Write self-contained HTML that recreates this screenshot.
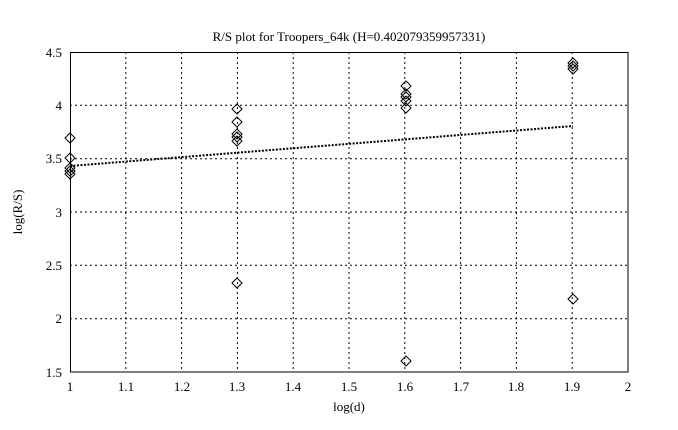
<html><body style="margin:0;background:#fff">
<svg width="678" height="430" xmlns="http://www.w3.org/2000/svg" font-family="Liberation Serif, serif" font-size="13">
<rect width="678" height="430" fill="#fff"/>
<g stroke="#000" stroke-width="1" stroke-dasharray="2,3">
<line x1="125.8" y1="52" x2="125.8" y2="372"/><line x1="181.6" y1="52" x2="181.6" y2="372"/><line x1="237.4" y1="52" x2="237.4" y2="372"/><line x1="293.2" y1="52" x2="293.2" y2="372"/><line x1="349" y1="52" x2="349" y2="372"/><line x1="404.8" y1="52" x2="404.8" y2="372"/><line x1="460.6" y1="52" x2="460.6" y2="372"/><line x1="516.4" y1="52" x2="516.4" y2="372"/><line x1="572.2" y1="52" x2="572.2" y2="372"/>
<line x1="70" y1="105.3" x2="628" y2="105.3"/><line x1="70" y1="158.7" x2="628" y2="158.7"/><line x1="70" y1="212" x2="628" y2="212"/><line x1="70" y1="265.3" x2="628" y2="265.3"/><line x1="70" y1="318.7" x2="628" y2="318.7"/>
</g>
<rect x="70.5" y="52.5" width="557.5" height="319.5" fill="none" stroke="#000"/>
<line x1="70" y1="166" x2="573" y2="126" stroke="#000" stroke-width="2" stroke-dasharray="2,1.5"/>
<g fill="none" stroke="#000">
<path id="d" d="M0,-5L5,0L0,5L-5,0Z" transform="translate(70,138)"/>
<path d="M0,-5L5,0L0,5L-5,0Z" transform="translate(70,158)"/>
<path d="M0,-5L5,0L0,5L-5,0Z" transform="translate(70,168)"/>
<path d="M0,-5L5,0L0,5L-5,0Z" transform="translate(70,171)"/>
<path d="M0,-5L5,0L0,5L-5,0Z" transform="translate(70,174)"/>
<path d="M0,-5L5,0L0,5L-5,0Z" transform="translate(237,109)"/>
<path d="M0,-5L5,0L0,5L-5,0Z" transform="translate(237,122)"/>
<path d="M0,-5L5,0L0,5L-5,0Z" transform="translate(237,134)"/>
<path d="M0,-5L5,0L0,5L-5,0Z" transform="translate(237,137)"/>
<path d="M0,-5L5,0L0,5L-5,0Z" transform="translate(237,141)"/>
<path d="M0,-5L5,0L0,5L-5,0Z" transform="translate(237,283)"/>
<path d="M0,-5L5,0L0,5L-5,0Z" transform="translate(406,86)"/>
<path d="M0,-5L5,0L0,5L-5,0Z" transform="translate(406,94)"/>
<path d="M0,-5L5,0L0,5L-5,0Z" transform="translate(406,97)"/>
<path d="M0,-5L5,0L0,5L-5,0Z" transform="translate(406,101)"/>
<path d="M0,-5L5,0L0,5L-5,0Z" transform="translate(406,108)"/>
<path d="M0,-5L5,0L0,5L-5,0Z" transform="translate(406,361)"/>
<path d="M0,-5L5,0L0,5L-5,0Z" transform="translate(573,63)"/>
<path d="M0,-5L5,0L0,5L-5,0Z" transform="translate(573,66)"/>
<path d="M0,-5L5,0L0,5L-5,0Z" transform="translate(573,69)"/>
<path d="M0,-5L5,0L0,5L-5,0Z" transform="translate(573,299)"/>
</g>
<g text-anchor="end">
<text x="62" y="57">4.5</text><text x="62" y="110">4</text><text x="62" y="163">3.5</text><text x="62" y="217">3</text><text x="62" y="270">2.5</text><text x="62" y="323">2</text><text x="62" y="377">1.5</text>
</g>
<g text-anchor="middle">
<text x="70" y="391">1</text><text x="126" y="391">1.1</text><text x="182" y="391">1.2</text><text x="237" y="391">1.3</text><text x="293" y="391">1.4</text><text x="349" y="391">1.5</text><text x="405" y="391">1.6</text><text x="461" y="391">1.7</text><text x="516" y="391">1.8</text><text x="572" y="391">1.9</text><text x="628" y="391">2</text>
<text x="349" y="411">log(d)</text>
<text x="349" y="41">R/S plot for Troopers_64k (H=0.402079359957331)</text>
<text x="0" y="0" transform="translate(22,212) rotate(-90)">log(R/S)</text>
</g>
</svg>
</body></html>
